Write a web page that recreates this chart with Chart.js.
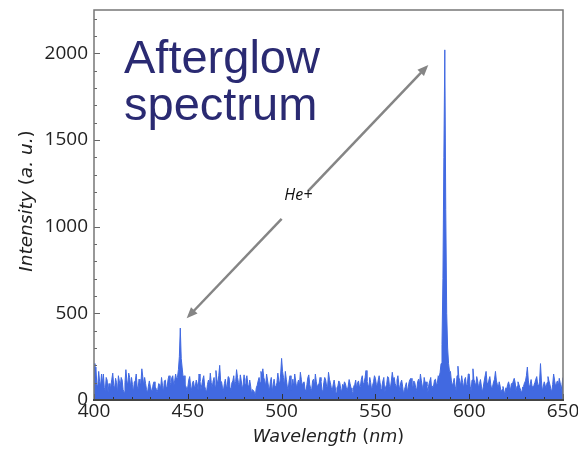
<!DOCTYPE html>
<html>
<head>
<meta charset="utf-8">
<script src="https://cdn.jsdelivr.net/npm/chart.js@4/dist/chart.umd.min.js"></script>
<style>
  html, body { margin: 0; padding: 0; background: #fff; }
  #wrap { width: 578px; height: 450px; }
</style>
</head>
<body>
<div id="wrap"><canvas id="spectrum" width="578" height="450"></canvas></div>
<script>
// --- Spectrum data (0.5 nm grid starting at 400 nm) ---
const START_NM = 400;
const STEP_NM = 0.5;
const intensity = [
  210, 130, 190, 90, 75, 165, 105, 80, 150, 95,
  150, 70, 55, 130, 115, 45, 95, 65, 80, 120,
  155, 85, 65, 125, 100, 40, 140, 110, 80, 130,
  115, 60, 45, 100, 175, 115, 80, 155, 130, 75,
  130, 90, 45, 105, 110, 150, 80, 65, 120, 100,
  95, 180, 135, 80, 130, 95, 60, 40, 80, 110,
  80, 60, 50, 90, 105, 70, 70, 45, 60, 95,
  90, 65, 130, 85, 45, 110, 115, 70, 75, 120,
  140, 100, 90, 130, 140, 80, 110, 150, 120, 130,
  175, 250, 415, 240, 185, 130, 140, 80, 80, 55,
  75, 115, 135, 80, 55, 100, 110, 75, 80, 115,
  95, 55, 150, 110, 60, 90, 120, 140, 80, 60,
  45, 90, 115, 80, 155, 100, 70, 110, 130, 80,
  170, 120, 90, 140, 200, 110, 105, 70, 55, 95,
  120, 80, 75, 135, 130, 70, 45, 100, 110, 140,
  80, 105, 175, 130, 100, 75, 145, 110, 60, 90,
  145, 90, 120, 140, 90, 70, 115, 80, 35, 60,
  55, 45, 25, 70, 85, 110, 130, 100, 165, 140,
  180, 130, 110, 80, 150, 115, 80, 55, 105, 130,
  45, 90, 120, 80, 70, 100, 155, 110, 90, 150,
  240, 165, 130, 80, 165, 120, 80, 60, 110, 140,
  55, 90, 120, 75, 150, 110, 70, 95, 115, 80,
  160, 120, 80, 100, 105, 60, 45, 90, 130, 145,
  90, 65, 55, 110, 120, 80, 150, 105, 70, 90,
  95, 130, 110, 60, 45, 100, 130, 115, 80, 70,
  160, 120, 100, 70, 55, 90, 115, 80, 40, 70,
  80, 110, 100, 65, 45, 90, 75, 105, 95, 70,
  55, 80, 118, 95, 70, 50, 35, 80, 90, 115,
  65, 100, 110, 75, 80, 120, 140, 90, 100, 130,
  170, 110, 90, 70, 130, 100, 55, 85, 105, 140,
  125, 90, 80, 115, 140, 100, 60, 80, 110, 130,
  45, 75, 90, 135, 130, 80, 70, 110, 160, 120,
  130, 95, 80, 115, 140, 90, 55, 100, 115, 80,
  35, 60, 80, 100, 45, 75, 105, 120, 125, 80,
  75, 110, 100, 70, 55, 105, 120, 90, 150, 110,
  80, 60, 130, 100, 105, 80, 45, 90, 110, 130,
  60, 80, 80, 115, 120, 90, 95, 140, 130, 160,
  210, 320, 700, 1400, 2020, 1100, 500, 300, 210, 165,
  165, 110, 80, 100, 125, 80, 55, 140, 195, 130,
  110, 80, 140, 100, 70, 115, 130, 80, 90, 150,
  150, 80, 55, 115, 180, 120, 100, 80, 135, 110,
  70, 95, 118, 80, 45, 75, 110, 140, 165, 100,
  80, 115, 135, 90, 60, 80, 105, 120, 165, 110,
  90, 70, 105, 80, 45, 60, 78, 55, 30, 70,
  65, 90, 105, 80, 55, 95, 90, 110, 125, 100,
  50, 80, 105, 90, 70, 55, 40, 75, 80, 100,
  110, 140, 190, 115, 70, 90, 118, 80, 55, 85,
  100, 120, 135, 90, 80, 105, 210, 110, 50, 80,
  105, 85, 70, 100, 135, 110, 90, 65, 45, 90,
  150, 115, 80, 95, 110, 80, 125, 100, 55, 90,
  130
];
const wavelength = intensity.map((_, i) => START_NM + i * STEP_NM);

// axis ranges and ticks
const xRange = [400, 650];
const yRange = [0, 2250];
const xTicks = [400, 450, 500, 550, 600, 650];
const yTicks = [0, 500, 1000, 1500, 2000];
const xMinor = 10, yMinor = 100;

// annotation: double arrow between the two He lines, in data units
const arrowFrom = { x: 449.4, y: 471 };
const arrowTo = { x: 578.2, y: 1933 };
const arrowLabel = 'He+';
const titleLines = ['Afterglow', 'spectrum'];

const BLUE = '#4169e1';
const TITLE_FONT = '"DejaVu Sans", Verdana, sans-serif';

// draws "word (unit)" with the word and unit in italics, brackets upright
function drawAxisTitle(ctx, parts, size) {
  const fonts = parts.map(p => (p.italic ? 'italic ' : '') + size + 'px ' + TITLE_FONT);
  const widths = parts.map((p, i) => { ctx.font = fonts[i]; return ctx.measureText(p.text).width; });
  let x = -widths.reduce((a, b) => a + b, 0) / 2;
  parts.forEach((p, i) => {
    ctx.font = fonts[i];
    ctx.fillText(p.text, x, 0);
    x += widths[i];
  });
}

// inward tick marks + plot frame
const framePlugin = {
  id: 'frame',
  afterDatasetsDraw(chart) {
    const { ctx, chartArea: a, scales: { x, y } } = chart;
    ctx.save();
    ctx.strokeStyle = '#666';
    ctx.lineWidth = 1;
    for (let v = yRange[0]; v <= yRange[1]; v += yMinor) {
      const py = Math.round(y.getPixelForValue(v)) + 0.5;
      const len = yTicks.includes(v) ? 6 : 3;
      ctx.beginPath();
      ctx.moveTo(a.left, py);
      ctx.lineTo(a.left + len, py);
      ctx.stroke();
    }
    ctx.strokeStyle = '#333';
    for (let v = xRange[0]; v <= xRange[1]; v += xMinor) {
      const px = Math.round(x.getPixelForValue(v)) + 0.5;
      const len = xTicks.includes(v) ? 6 : 3;
      ctx.beginPath();
      ctx.moveTo(px, a.bottom);
      ctx.lineTo(px, a.bottom - len);
      ctx.stroke();
    }
    // box
    ctx.strokeStyle = '#777';
    ctx.lineWidth = 1.5;
    ctx.beginPath();
    ctx.moveTo(a.left, a.bottom);
    ctx.lineTo(a.left, a.top);
    ctx.lineTo(a.right, a.top);
    ctx.lineTo(a.right, a.bottom);
    ctx.stroke();
    ctx.strokeStyle = '#444';
    ctx.lineWidth = 2;
    ctx.beginPath();
    ctx.moveTo(a.left - 1, a.bottom);
    ctx.lineTo(a.right + 1, a.bottom);
    ctx.stroke();
    ctx.restore();
  }
};

// axis titles, big title and the He+ arrow
const annotatePlugin = {
  id: 'annotate',
  afterDraw(chart) {
    const { ctx, chartArea: a, scales: { x, y } } = chart;
    ctx.save();
    ctx.fillStyle = '#222';
    ctx.textBaseline = 'middle';
    ctx.save();
    ctx.translate((a.left + a.right) / 2, 437);
    drawAxisTitle(ctx, [
      { text: 'Wavelength ', italic: true }, { text: '(' }, { text: 'nm', italic: true }, { text: ')' }
    ], 17.5);
    ctx.restore();
    ctx.save();
    ctx.translate(27, 201);
    ctx.rotate(-Math.PI / 2);
    drawAxisTitle(ctx, [
      { text: 'Intensity ', italic: true }, { text: '(' }, { text: 'a. u.', italic: true }, { text: ')' }
    ], 18.5);
    ctx.restore();

    ctx.fillStyle = '#2a2a72';
    ctx.font = '47px "Liberation Sans", Arial, sans-serif';
    ctx.textBaseline = 'alphabetic';
    ctx.fillText(titleLines[0], 124, 73);
    ctx.fillText(titleLines[1], 124, 120);

    const x0 = x.getPixelForValue(arrowFrom.x), y0 = y.getPixelForValue(arrowFrom.y);
    const x1 = x.getPixelForValue(arrowTo.x), y1 = y.getPixelForValue(arrowTo.y);
    const at = t => [x0 + (x1 - x0) * t, y0 + (y1 - y0) * t];
    const ang = Math.atan2(y1 - y0, x1 - x0);
    ctx.strokeStyle = '#858585';
    ctx.fillStyle = '#858585';
    ctx.lineWidth = 2.5;
    [[0.03, 0.393], [0.503, 0.97]].forEach(([s, e]) => {
      const p = at(s), q = at(e);
      ctx.beginPath();
      ctx.moveTo(p[0], p[1]);
      ctx.lineTo(q[0], q[1]);
      ctx.stroke();
    });
    const head = (px, py, dir) => {
      const L = 11, W = 4.5;
      ctx.beginPath();
      ctx.moveTo(px, py);
      ctx.lineTo(px - L * Math.cos(dir) + W * Math.sin(dir), py - L * Math.sin(dir) - W * Math.cos(dir));
      ctx.lineTo(px - L * Math.cos(dir) - W * Math.sin(dir), py - L * Math.sin(dir) + W * Math.cos(dir));
      ctx.closePath();
      ctx.fill();
    };
    head(x1, y1, ang);
    head(x0, y0, ang + Math.PI);

    // label sits in the gap, slightly above the line
    const lp = at(0.462);
    ctx.fillStyle = '#111';
    ctx.font = 'italic 16px "Open Sans", sans-serif';
    ctx.textAlign = 'center';
    ctx.textBaseline = 'middle';
    ctx.fillText(arrowLabel, lp[0], lp[1] - 6);
    ctx.restore();
  }
};

new Chart(document.getElementById('spectrum'), {
  type: 'line',
  data: {
    datasets: [{
      data: intensity.map((v, i) => ({ x: wavelength[i], y: v })),
      borderColor: BLUE,
      backgroundColor: BLUE,
      borderWidth: 1,
      fill: 'origin',
      pointRadius: 0,
      tension: 0
    }]
  },
  options: {
    responsive: false,
    animation: false,
    layout: { autoPadding: false, padding: { top: 10, right: 15, left: 0, bottom: 0 } },
    plugins: { legend: { display: false }, tooltip: { enabled: false } },
    scales: {
      x: {
        type: 'linear',
        min: xRange[0],
        max: xRange[1],
        grid: { display: false, drawTicks: false },
        border: { display: false },
        afterBuildTicks(scale) { scale.ticks = xTicks.map(v => ({ value: v })); },
        ticks: { padding: 0, color: '#222', font: { family: 'Open Sans', size: 19 } },
        afterFit(scale) {
          scale.height = 50;
          scale.paddingLeft = 0;
          scale.paddingRight = 0;
        }
      },
      y: {
        min: yRange[0],
        max: yRange[1],
        grid: { display: false, drawTicks: false },
        border: { display: false },
        afterBuildTicks(scale) { scale.ticks = yTicks.map(v => ({ value: v })); },
        ticks: { padding: 6, color: '#222', font: { family: 'Open Sans', size: 19 }, callback: v => String(v) },
        afterFit(scale) {
          scale.width = 94;
          scale.paddingTop = 0;
          scale.paddingBottom = 0;
        }
      }
    }
  },
  plugins: [framePlugin, annotatePlugin]
});
</script>
</body>
</html>
